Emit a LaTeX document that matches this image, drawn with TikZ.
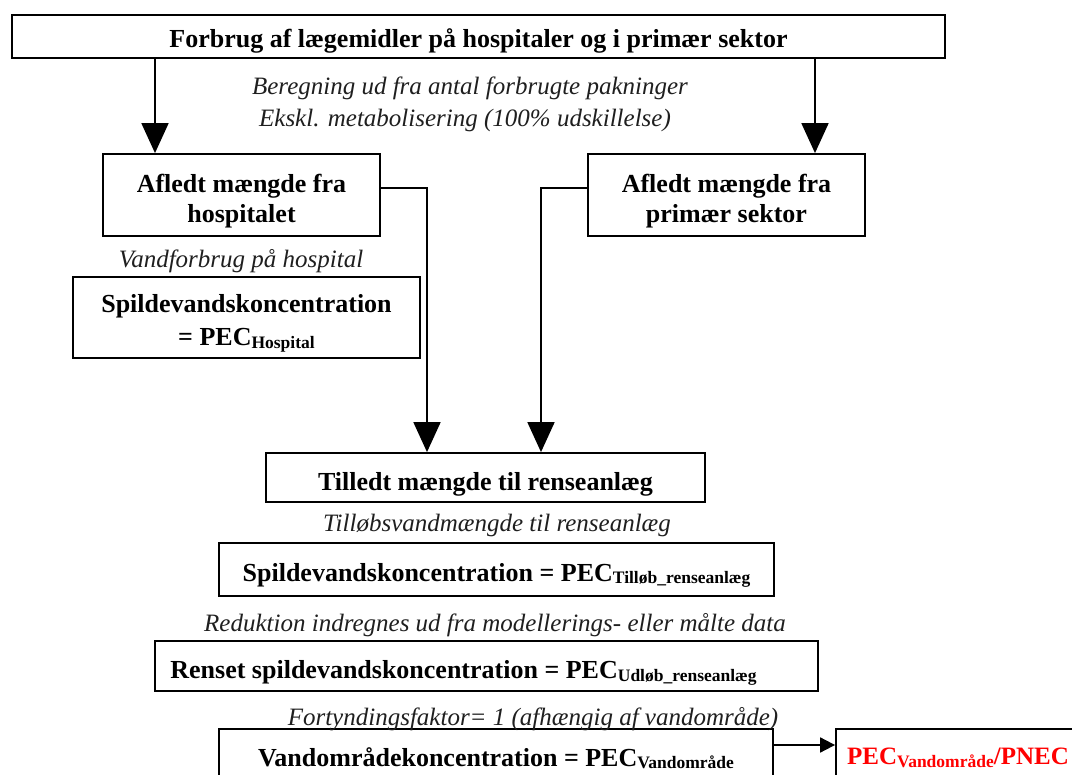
\documentclass[tikz,border=0pt]{standalone}
\usepackage{fontspec}
\setmainfont{Liberation Serif}
\usetikzlibrary{arrows.meta}
\newcommand{\pecsub}[1]{\raisebox{-2.5pt}{\fontsize{17.5}{17.5}\selectfont #1}}
\begin{document}
\begin{tikzpicture}[x=1pt,y=-1pt,
  box/.style={draw, line width=1.8pt, inner sep=0pt},
  btxt/.style={inner sep=0pt, align=center, font=\bfseries\fontsize{26}{30}\selectfont},
  lbl/.style={inner sep=0pt, text=black!88, font=\itshape\fontsize{25}{28}\selectfont},
  arr/.style={line width=1.8pt, -{Triangle[length=30pt,width=27pt]}},
  harr/.style={line width=1.8pt, -{Triangle[length=15pt,width=15pt]}},
]
\useasboundingbox (0,0) rectangle (1072,775);
\clip (0,0) rectangle (1072,775);
\fill[white] (0,0) rectangle (1072,775);

% boxes
\node[box, minimum width=933pt, minimum height=43pt] (top) at (478.5,36.5) {};
\node[box, minimum width=277pt, minimum height=82pt] (afh) at (241.5,195) {};
\node[box, minimum width=277pt, minimum height=82pt] (prim) at (726.5,195) {};
\node[box, minimum width=347pt, minimum height=81pt] (spildh) at (246.5,317.5) {};
\node[box, minimum width=439pt, minimum height=49pt] (till) at (485.5,477.5) {};
\node[box, minimum width=555pt, minimum height=53pt] (spildt) at (496.5,569.5) {};
\node[box, minimum width=663pt, minimum height=50pt] (rens) at (486.5,666) {};
\node[box, minimum width=554pt, minimum height=60pt] (vand) at (496,759) {};
\node[box, minimum width=244pt, minimum height=60pt] (ratio) at (958,759) {};

% box texts
\node[btxt, font=\bfseries\fontsize{26}{30}\selectfont] (top-t) at ([yshift=-4pt]top.center) {Forbrug af lægemidler på hospitaler og i primær sektor};
\node[btxt] (afh-t) at ([yshift=-6pt]afh.center) {Afledt mængde fra\\hospitalet};
\node[btxt] (prim-t) at ([yshift=-6pt]prim.center) {Afledt mængde fra\\primær sektor};
\node[btxt, font=\bfseries\fontsize{26}{33}\selectfont] (spildh-t) at ([yshift=-6pt]spildh.center) {Spildevandskoncentration\\= PEC\pecsub{Hospital}};
\node[btxt] (till-t) at ([yshift=-7pt]till.center) {Tilledt mængde til renseanlæg};
\node[btxt] (spildt-t) at ([yshift=-6pt]spildt.center) {Spildevandskoncentration = PEC\pecsub{Tilløb\_renseanlæg}};
\node[btxt] (rens-t) at ([xshift=-23pt,yshift=-7pt]rens.center) {Renset spildevandskoncentration = PEC\pecsub{Udløb\_renseanlæg}};
\node[btxt] (vand-t) at ([yshift=1pt]vand.center) {Vandområdekoncentration = PEC\pecsub{Vandområde}};
\node[btxt, text=red, font=\bfseries\fontsize{25}{30}\selectfont] (ratio-t) at ([yshift=1pt]ratio.center) {PEC\pecsub{Vandområde}/PNEC};

% italic labels
\node[lbl] (l1) at (470,88) {Beregning ud fra antal forbrugte pakninger};
\node[lbl] (l2) at (465,120) {Ekskl. metabolisering (100\% udskillelse)};
\node[lbl] (l3) at (241,261) {Vandforbrug på hospital};
\node[lbl] (l4) at (497,525) {Tilløbsvandmængde til renseanlæg};
\node[lbl] (l5) at (495,625) {Reduktion indregnes ud fra modellerings- eller målte data};
\node[lbl] (l6) at (533,719) {Fortyndingsfaktor= 1 (afhængig af vandområde)};

\coordinate (xl) at (155,0);
\coordinate (xr) at (815,0);
\coordinate (xh) at (427,0);
\coordinate (xp) at (541,0);

\draw[arr] (top.south -| xl) -- (afh.north -| xl);
\draw[arr] (top.south -| xr) -- (prim.north -| xr);
\draw[arr] ([yshift=7pt]afh.east) -| (till.north -| xh);
\draw[arr] ([yshift=7pt]prim.west) -| (till.north -| xp);
\draw[harr] ([yshift=14pt]vand.east) -- ([yshift=14pt]ratio.west);
\end{tikzpicture}
\end{document}
